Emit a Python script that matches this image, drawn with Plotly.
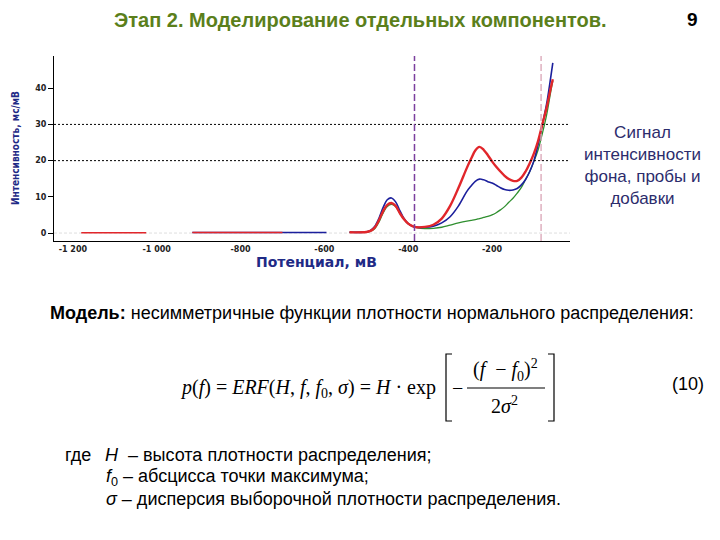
import plotly.graph_objects as go

# ---------------- data ----------------
potential_main = [-540, -500, -490, -480, -470, -460, -450, -440, -430, -420, -410, -400,
                  -390, -380, -360, -340, -320, -300, -280, -260, -250, -240, -230, -220,
                  -210, -200, -190, -180, -170, -160, -150, -140, -130, -120, -110, -100,
                  -90, -80, -70, -60, -55]

red_main = [0.2, 0.3, 0.6, 1.5, 3.5, 6.0, 7.8, 8.3, 7.5, 5.5, 3.8, 2.6,
            1.9, 1.6, 1.7, 2.3, 4.0, 7.5, 12.5, 18.0, 20.5, 22.8, 23.8, 23.0,
            21.5, 19.8, 18.3, 17.0, 15.8, 14.9, 14.4, 14.4, 15.3, 17.0, 19.3, 22.0,
            25.5, 30.0, 34.5, 40.0, 42.5]

blue_main = [0.2, 0.3, 0.7, 1.8, 4.0, 7.0, 9.2, 9.7, 8.6, 6.2, 4.0, 2.6,
             1.9, 1.6, 1.6, 1.9, 2.8, 4.5, 7.5, 11.5, 13.0, 14.3, 14.9, 14.7,
             14.2, 13.8, 13.2, 12.5, 12.0, 11.8, 11.9, 12.3, 13.3, 14.8, 17.0, 20.0,
             24.5, 30.0, 35.5, 43.0, 47.0]

green_main = [0.2, 0.3, 0.5, 1.2, 3.0, 5.5, 7.3, 7.9, 7.3, 5.5, 3.8, 2.6,
              1.9, 1.5, 1.2, 1.3, 1.6, 2.2, 2.8, 3.3, 3.5, 3.7, 4.0, 4.3,
              4.6, 5.0, 5.6, 6.4, 7.3, 8.5, 9.6, 11.0, 12.6, 14.8, 17.0, 19.8,
              23.0, 27.5, 32.5, 39.0, 42.0]

# flat baseline pieces (potential, intensity)
red_base_x = [-1180, -1025, None, -915, -700]
red_base_y = [0.1, 0.1, None, 0.15, 0.15]
blue_base_x = [-915, -595]
blue_base_y = [0.15, 0.15]

window_left = -385
window_right = -83
ref_levels = [20, 30]

x_tickvals = [-1200, -1000, -800, -600, -400, -200]
x_ticktext = ["-1 200", "-1 000", "-800", "-600", "-400", "-200"]
y_tickvals = [0, 10, 20, 30, 40]
y_ticktext = ["0", "10", "20", "30", "40"]

# ---------------- figure ----------------
W, H = 720, 540
def px(x):
    return x / W
def py(y):
    return 1 - y / H

RED = "#e1262b"
BLUE = "#1b1f9c"
GREEN = "#2f8f2f"
NAVY = "#1f2a86"

fig = go.Figure()

fig.add_trace(go.Scatter(x=blue_base_x, y=blue_base_y, mode="lines",
                         line=dict(color=BLUE, width=1.5), hoverinfo="skip"))
fig.add_trace(go.Scatter(x=red_base_x, y=red_base_y, mode="lines",
                         line=dict(color=RED, width=1.5), hoverinfo="skip"))
fig.add_trace(go.Scatter(x=potential_main, y=green_main, mode="lines",
                         line=dict(color=GREEN, width=1.3, shape="spline"), hoverinfo="skip"))
fig.add_trace(go.Scatter(x=potential_main, y=blue_main, mode="lines",
                         line=dict(color=BLUE, width=1.6, shape="spline"), hoverinfo="skip"))
fig.add_trace(go.Scatter(x=potential_main, y=red_main, mode="lines",
                         line=dict(color=RED, width=2.4, shape="spline"), hoverinfo="skip"))

# reference lines
fig.add_hline(y=0, line=dict(color="#dedede", width=1, dash="3px,2px"), layer="below")
for lv in ref_levels:
    fig.add_hline(y=lv, line=dict(color="black", width=1, dash="2px,2px"))
fig.add_vline(x=window_left, line=dict(color="#7b3f9e", width=1.5, dash="7px,3px"))
fig.add_vline(x=window_right, line=dict(color="#d9a3b5", width=1.3, dash="7px,3px"))

fig.update_layout(
    width=W, height=H,
    margin=dict(l=0, r=0, t=0, b=0),
    paper_bgcolor="white", plot_bgcolor="white",
    showlegend=False,
    xaxis=dict(domain=[px(54), px(570)], range=[-1245, -14],
               showline=True, linecolor="black", linewidth=1,
               showgrid=False, zeroline=False, ticks="",
               tickvals=x_tickvals, ticktext=x_ticktext,
               tickfont=dict(family="DejaVu Sans", size=8, color="#222222", weight="bold")),
    yaxis=dict(domain=[py(241), py(56)], range=[-2.2, 48.9],
               showline=True, linecolor="black", linewidth=1,
               showgrid=False, zeroline=False,
               ticks="outside", ticklen=5, tickcolor="black", tickwidth=1,
               tickvals=y_tickvals, ticktext=y_ticktext,
               tickfont=dict(family="DejaVu Sans", size=8, color="#222222", weight="bold")),
)

ann = []
def text(x, y, s, size, color="black", family="Liberation Sans", xanchor="center",
         yanchor="middle", angle=0, weight="normal", align="center"):
    ann.append(dict(x=px(x), y=py(y), xref="paper", yref="paper", text=s,
                    showarrow=False, xanchor=xanchor, yanchor=yanchor, textangle=angle,
                    align=align,
                    font=dict(family=family, size=size, color=color, weight=weight)))

# slide title and page number
text(360, 20, "Этап 2. Моделирование отдельных компонентов.", 20, color="#5b7f1b", weight="bold")
text(692, 20, "9", 19, weight="bold")

# axis titles
text(316, 262, "Потенциал, мВ", 14, color=NAVY, family="DejaVu Sans", weight="bold")
text(15, 148, "Интенсивность, мс/мВ", 10, color=NAVY,
     family="Liberation Sans Narrow, DejaVu Sans Condensed, Liberation Sans", weight="bold", angle=-90)

# right side note
text(642, 165, "Сигнал<br>интенсивности<br>фона, пробы и<br>добавки", 17, color="#2c2c6c")

# model line
text(48, 313, "<b>Модель:</b> несимметричные функции плотности нормального распределения:",
     18, xanchor="left")

# formula
SERIF = "Liberation Serif"
text(178, 388, "<i>p</i>(<i>f</i>) = <i>ERF</i>(<i>H</i>, <i>f</i>, <i>f</i><sub>0</sub>, <i>σ</i>) = <i>H</i> · exp",
     20, family=SERIF, xanchor="left")
text(457, 388, "−", 20, family=SERIF)
text(506, 370, "(<i>f</i>  − <i>f</i><sub>0</sub>)<sup>2</sup>", 20, family=SERIF)
text(505, 405, "2<i>σ</i><sup>2</sup>", 20, family=SERIF)
text(688, 384, "(10)", 18)

# legend for symbols
text(63, 455, "где", 18, xanchor="left")
text(103, 455, "<i>H</i>  – высота плотности распределения;", 18, xanchor="left")
text(104, 477, "<i>f</i><sub>0</sub> – абсцисса точки максимума;", 18, xanchor="left")
text(104, 499, "<i>σ</i> – дисперсия выборочной плотности распределения.", 18, xanchor="left")

fig.update_layout(annotations=ann)

# formula brackets and fraction bar
def P(x, y):
    return f"{px(x)},{py(y)}"
bracket_paths = [
    f"M {P(452,354)} L {P(446,354)} L {P(446,421)} L {P(452,421)}",
    f"M {P(548,354)} L {P(554,354)} L {P(554,421)} L {P(548,421)}",
    f"M {P(467,388)} L {P(545,388)}",
]
for path in bracket_paths:
    fig.add_shape(type="path", path=path, xref="paper", yref="paper",
                  line=dict(color="black", width=1.2))

fig.write_html("out.html", config={"displayModeBar": False},
               post_script="document.body.style.margin='0';document.body.style.padding='0';")
